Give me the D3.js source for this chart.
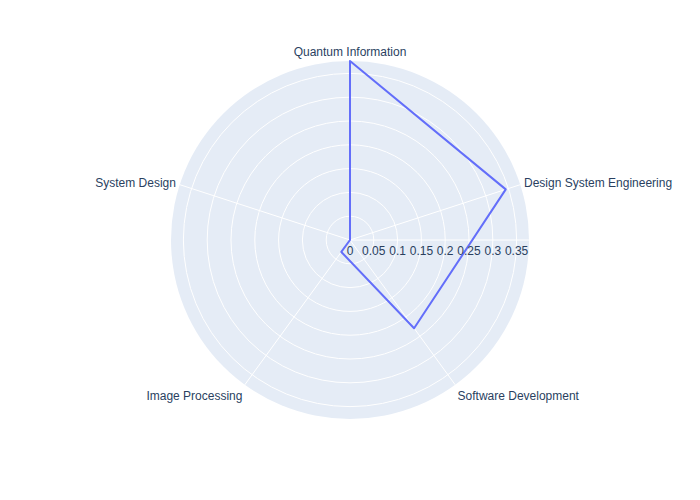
<!DOCTYPE html>
<html>
<head>
<meta charset="utf-8">
<script src="https://cdn.jsdelivr.net/npm/d3@7"></script>
<style>
  body { margin: 0; background: #fff; }
  svg { display: block; }
</style>
</head>
<body>
<svg id="chart" width="700" height="500"></svg>
<script>
const categories = ["Quantum Information", "System Design", "Image Processing", "Software Development", "Design System Engineering"];
const values = [0.376, 0.0, 0.031, 0.229, 0.344];
const radialTicks = [0, 0.05, 0.1, 0.15, 0.2, 0.25, 0.3, 0.35];
const radialMax = 0.376;

const svg = d3.select("#chart");
const cx = 350, cy = 240, R = 179;
const font = '"Liberation Sans", Arial, sans-serif';
const textColor = "#2a3f5f";

const rScale = d3.scaleLinear().domain([0, radialMax]).range([0, R]);
// counterclockwise, starting at top (rotation 90deg)
function angleDeg(cat) {
  const i = categories.indexOf(cat);
  return 90 + i * 360 / categories.length;
}
function pos(deg, r) {
  const a = deg * Math.PI / 180;
  return [cx + r * Math.cos(a), cy - r * Math.sin(a)];
}

const g = svg.append("g");

// background
g.append("circle").attr("cx", cx).attr("cy", cy).attr("r", R).attr("fill", "#E5ECF6");

// radial grid circles
g.selectAll("circle.grid").data(radialTicks.filter(d => d > 0)).enter()
  .append("circle").attr("class", "grid")
  .attr("cx", cx).attr("cy", cy).attr("r", d => rScale(d))
  .attr("fill", "none").attr("stroke", "#fff").attr("stroke-width", 1);

// angular spokes
g.selectAll("line.spoke").data(categories).enter()
  .append("line").attr("class", "spoke")
  .attr("x1", cx).attr("y1", cy)
  .attr("x2", d => pos(angleDeg(d), R)[0])
  .attr("y2", d => pos(angleDeg(d), R)[1])
  .attr("stroke", "#fff").attr("stroke-width", 1);

// radial axis line at angle 0
g.append("line").attr("x1", cx).attr("y1", cy).attr("x2", cx + R).attr("y2", cy)
  .attr("stroke", "#fff").attr("stroke-width", 1);

// trace
const pts = categories.map((c, i) => pos(angleDeg(c), rScale(values[i])));
const line = d3.line().curve(d3.curveLinearClosed);
g.append("path").attr("d", line(pts))
  .attr("fill", "none").attr("stroke", "#636efa").attr("stroke-width", 2)
  .attr("stroke-linejoin", "round");

// radial tick labels
g.selectAll("text.rtick").data(radialTicks).enter()
  .append("text").attr("class", "rtick")
  .attr("x", d => cx + rScale(d)).attr("y", cy + 15)
  .attr("text-anchor", "middle")
  .attr("font-family", font).attr("font-size", 12).attr("fill", textColor)
  .text(d => d === 0 ? "0" : d3.format("~g")(d));

// angular labels
g.selectAll("text.alabel").data(categories).enter()
  .append("text").attr("class", "alabel")
  .each(function(d) {
    const deg = angleDeg(d);
    const a = deg * Math.PI / 180;
    const c = Math.cos(a), s = Math.sin(a);
    const p = pos(deg, R + 4);
    let anchor = Math.abs(c) < 0.1 ? "middle" : (c > 0 ? "start" : "end");
    let dy = s > 0.9 ? -1 : (s < -0.5 ? 12 : 4);
    d3.select(this).attr("x", p[0]).attr("y", p[1] + dy).attr("text-anchor", anchor);
  })
  .attr("font-family", font).attr("font-size", 12).attr("fill", textColor)
  .text(d => d);
</script>
</body>
</html>
